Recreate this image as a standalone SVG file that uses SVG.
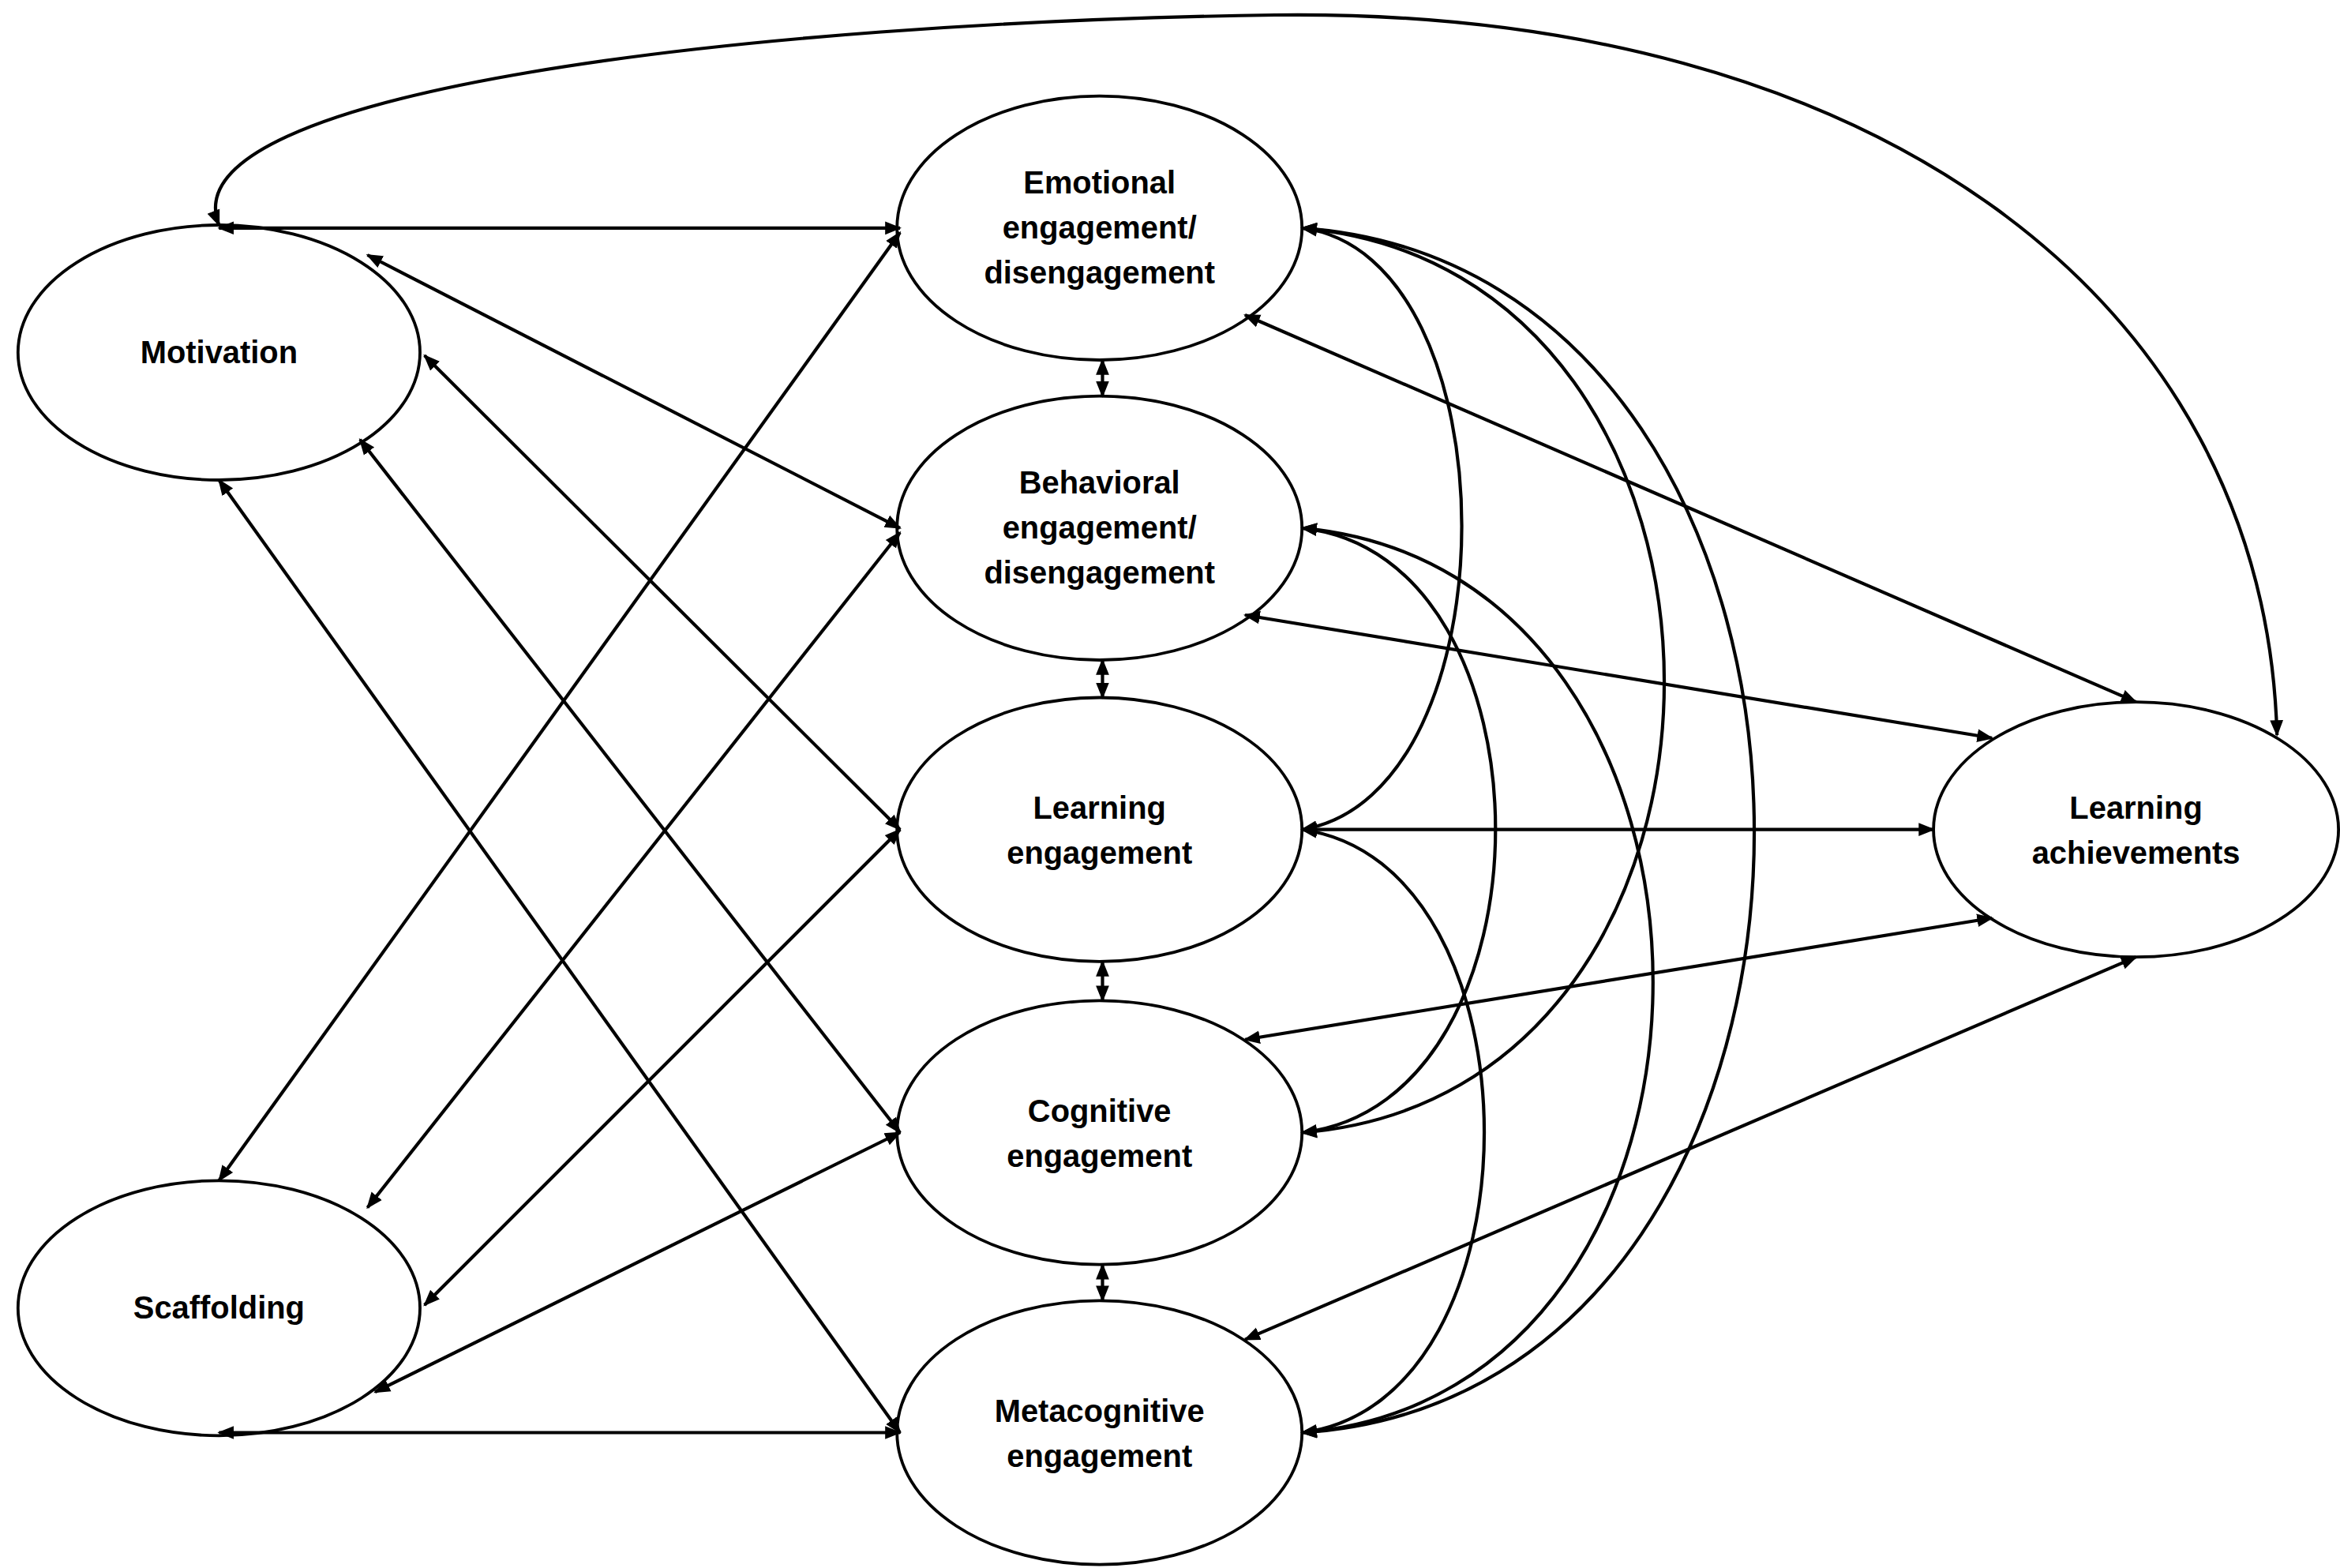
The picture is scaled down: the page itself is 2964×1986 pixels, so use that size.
<svg xmlns="http://www.w3.org/2000/svg" width="2964" height="1986" viewBox="0 0 2964 1986">
<defs>
<marker id="a" viewBox="0 0 10 10" refX="9" refY="5" markerWidth="5" markerHeight="5" orient="auto-start-reverse" markerUnits="strokeWidth"><path d="M0,1 L10,5 L0,9 z" fill="#000"/></marker>
<style>
ellipse{fill:#fff;stroke:#000;stroke-width:2}
text{font-family:"Liberation Sans",Arial,sans-serif;font-weight:bold;font-size:21px;text-anchor:middle;fill:#000}
#connectors path,#connectors line{fill:none;stroke:#000;stroke-width:2.2;marker-start:url(#a);marker-end:url(#a)}
</style>
</defs>
<rect width="2964" height="1986" fill="#fff"/>
<g transform="scale(1.9)">
<g id="motivation"><ellipse cx="146" cy="235" rx="134" ry="85"/><text x="146" y="242">Motivation</text></g>
<g id="scaffolding"><ellipse cx="146" cy="872" rx="134" ry="85"/><text x="146" y="879">Scaffolding</text></g>
<g id="emotional"><ellipse cx="733" cy="152" rx="135" ry="88"/><text x="733" y="129">Emotional</text><text x="733" y="159">engagement/</text><text x="733" y="189">disengagement</text></g>
<g id="behavioral"><ellipse cx="733" cy="352" rx="135" ry="88"/><text x="733" y="329">Behavioral</text><text x="733" y="359">engagement/</text><text x="733" y="389">disengagement</text></g>
<g id="learning"><ellipse cx="733" cy="553" rx="135" ry="88"/><text x="733" y="546">Learning</text><text x="733" y="576">engagement</text></g>
<g id="cognitive"><ellipse cx="733" cy="755" rx="135" ry="88"/><text x="733" y="748">Cognitive</text><text x="733" y="778">engagement</text></g>
<g id="metacognitive"><ellipse cx="733" cy="955" rx="135" ry="88"/><text x="733" y="948">Metacognitive</text><text x="733" y="978">engagement</text></g>
<g id="achievements"><ellipse cx="1424" cy="553" rx="135" ry="85"/><text x="1424" y="546">Learning</text><text x="1424" y="576">achievements</text></g>
<g id="connectors">
<path d="M146,150 C110,60 500,15 850,10 C1250,5 1510,200 1518,490"/>
<line x1="146" y1="152" x2="600" y2="152"/>
<line x1="245" y1="170" x2="600" y2="352"/>
<line x1="283" y1="237" x2="600" y2="553"/>
<line x1="240" y1="293" x2="600" y2="755"/>
<line x1="146" y1="320" x2="600" y2="955"/>
<line x1="146" y1="787" x2="600" y2="155"/>
<line x1="245" y1="805" x2="600" y2="355"/>
<line x1="283" y1="870" x2="600" y2="553"/>
<line x1="250" y1="928" x2="600" y2="755"/>
<line x1="146" y1="955" x2="600" y2="955"/>
<line x1="735" y1="240" x2="735" y2="264"/>
<line x1="735" y1="440" x2="735" y2="465"/>
<line x1="735" y1="641" x2="735" y2="667"/>
<line x1="735" y1="843" x2="735" y2="867"/>
<line x1="830" y1="210" x2="1424" y2="468"/>
<line x1="830" y1="410" x2="1328" y2="492"/>
<line x1="868" y1="553" x2="1289" y2="553"/>
<line x1="830" y1="693" x2="1328" y2="612"/>
<line x1="830" y1="893" x2="1424" y2="638"/>
<path d="M868,152 C1010,170 1010,530 868,553"/>
<path d="M868,152 C1190,180 1190,730 868,755"/>
<path d="M868,152 C1270,180 1270,930 868,955"/>
<path d="M868,352 C1040,370 1040,735 868,755"/>
<path d="M868,352 C1180,380 1180,930 868,955"/>
<path d="M868,553 C1030,575 1030,935 868,955"/>
</g>
</g>
</svg>
